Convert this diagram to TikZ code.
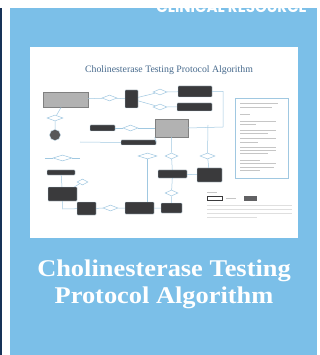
\documentclass[tikz,border=0pt]{standalone}
\usepackage{fontspec}
\setmainfont{Liberation Serif}
\newfontfamily\titlefont{Liberation Serif}[FakeStretch=1.1]
\newfontfamily\tagfont{Poppins}
\usetikzlibrary{shapes.geometric}
\definecolor{panelblue}{RGB}{123,191,232}
\definecolor{navy}{RGB}{22,50,88}
\definecolor{boxfill}{RGB}{58,58,60}
\definecolor{linecol}{RGB}{160,200,225}
\definecolor{thumbtitle}{RGB}{70,105,140}

\begin{document}
\begin{tikzpicture}
	[x=1pt,y=-1pt,
	darkbox/.style={rectangle,draw=linecol!60,fill=boxfill,rounded corners=0.6pt,inner sep=0pt,line width=0.3pt},
	graybox/.style={rectangle,draw=gray,fill=gray!60,inner sep=0pt,line width=0.4pt},
	decision/.style={diamond,draw=linecol,inner sep=0pt,line width=0.5pt},
	link/.style={draw=linecol,line width=0.5pt},
	textline/.style={draw=gray!45,line width=0.8pt}]
	% page and panel
	\fill[white] (0,0) rectangle (320,355);
	\useasboundingbox (0,0) rectangle (320,355);
	\fill[navy] (0,8) rectangle (2,355);
	\fill[panelblue] (10,8) rectangle (317,355);
	\begin{scope}
		\clip (10,8) rectangle (317,355);
		\node[anchor=base east,inner sep=0pt,text=white,font=\tagfont\bfseries\fontsize{15}{15}\selectfont] (tag) at (307,13) {CLINICAL RESOURCE};
	\end{scope}
	% thumbnail of the algorithm
	\fill[white] (30,47) rectangle (298,238);
	\node[text=thumbtitle,font=\fontsize{9.8}{10}\selectfont] (thumbtitle) at (169,70) {Cholinesterase Testing Protocol Algorithm};
	\node at (65.5,99.5) [graybox,minimum width=45pt,minimum height=15pt] (start) {};
	\node at (109.5,98) [decision,minimum width=15pt,minimum height=6pt] (d1) {};
	\node at (131.5,99) [darkbox,minimum width=13pt,minimum height=18pt] (b1) {};
	\node at (160,92) [decision,minimum width=14pt,minimum height=6pt] (d2) {};
	\node at (160,107) [decision,minimum width=14pt,minimum height=6pt] (d3) {};
	\node at (195,91.5) [darkbox,minimum width=34pt,minimum height=11pt] (b2) {};
	\node at (194.5,107) [darkbox,minimum width=35pt,minimum height=8pt] (b3) {};
	\node at (261.5,138) [rectangle,draw=linecol,line width=0.5pt,minimum width=53pt,minimum height=80pt] (legend) {};
	\node at (55,118) [decision,minimum width=16pt,minimum height=6pt] (d4) {};
	\node at (55,135) [circle,fill=boxfill!85,draw=linecol!60,minimum size=11pt,inner sep=0pt] (stop) {};
	\node at (102.5,128) [darkbox,minimum width=25pt,minimum height=6pt] (b4) {};
	\node at (130.5,128) [decision,minimum width=15pt,minimum height=6pt] (d5) {};
	\node at (171.5,128) [graybox,minimum width=33pt,minimum height=18pt] (review) {};
	\node at (138.5,142.5) [darkbox,minimum width=35pt,minimum height=5pt] (b5) {};
	\node at (62.5,158) [decision,minimum width=19pt,minimum height=6pt] (d6) {};
	\node at (147.5,156) [decision,minimum width=19pt,minimum height=6pt] (d7) {};
	\node at (171.5,156) [decision,minimum width=13pt,minimum height=6pt] (d8) {};
	\node at (207.5,156) [decision,minimum width=15pt,minimum height=6pt] (d9) {};
	\node at (61,172.5) [darkbox,minimum width=28pt,minimum height=5pt] (b6) {};
	\node at (82.5,182) [decision,minimum width=11pt,minimum height=6pt] (d10) {};
	\node at (62.5,194) [darkbox,minimum width=29pt,minimum height=14pt] (b7) {};
	\node at (172.5,174) [darkbox,minimum width=29pt,minimum height=8pt] (b8) {};
	\node at (209.5,175) [darkbox,minimum width=25pt,minimum height=14pt] (b9) {};
	\node at (171.5,193) [decision,minimum width=13pt,minimum height=6pt] (d11) {};
	\node at (86.5,208.5) [darkbox,minimum width=19pt,minimum height=13pt] (b10) {};
	\node at (110.5,208) [decision,minimum width=15pt,minimum height=6pt] (d12) {};
	\node at (139.5,208) [darkbox,minimum width=29pt,minimum height=12pt] (b11) {};
	\node at (171.5,208) [darkbox,minimum width=21pt,minimum height=10pt] (b12) {};
	\coordinate (rightturn) at (223,127);
	\coordinate (leftend) at (80,142);
	\coordinate (rightdrop) at (208,125);
	\coordinate (loopcorner) at (62.5,209);
	% connectors
	\draw[link] (start) -- (d1) -- (b1);
	\draw[link] (b1) -- (d2) -- (b2);
	\draw[link] (b1) -- (d3) -- (b3);
	\draw[link] (b2.east) -| (rightturn) -- (review.east);
	\draw[link] (start) -- (d4) -- (stop);
	\draw[link] (b4) -- (d5) -- (review);
	\draw[link] (leftend) -- (b5.west);
	\draw[link] (b5.east) -- (review.south west);
	\draw[link] (review) -- (d8) -- (b8) -- (d11) -- (b12);
	\draw[link] (rightdrop) -- (d9) -- (b9);
	\draw[link] (b8) -- (b9);
	\draw[link] ([xshift=-8pt]d6.west) -- (d6) -- ([xshift=8pt]d6.east);
	\draw[link] (b6) -- (b7);
	\draw[link] (d10) -- (b7);
	\draw[link] (b7) -- (loopcorner) -- (b10);
	\draw[link] (b10) -- (d12) -- (b11) -- (b12);
	\draw[link] (d7) -- (d7 |- b11.north);
	% legend text lines
	\foreach \ly/\lw in {103/38,107/32,114/10,121/36,124/16,130/36,133/28,138/36,142/18,147/36,150/36,153/28,160/20,163/36,167/34,170/20}
		\draw[textline] (240,\ly) -- ++(\lw,0);
	% key and notes
	\draw[textline] (207,192) -- ++(10,0);
	\node at (215,198) [rectangle,draw=boxfill,line width=0.5pt,minimum width=15pt,minimum height=4pt,inner sep=0pt] (keybox) {};
	\draw[textline] (226,198) -- ++(10,0);
	\node at (250,198) [rectangle,fill=boxfill!80,minimum width=13pt,minimum height=5pt,inner sep=0pt] (keymark) {};
	\foreach \ny/\nw in {205/85,209/85,213/85,217/50}
		\draw[draw=gray!25,line width=0.8pt] (207,\ny) -- ++(\nw,0);
	% title
	\node[anchor=base,text=white,font=\titlefont\bfseries\fontsize{24}{28}\selectfont] (title1) at (164,276) {Cholinesterase Testing};
	\node[anchor=base,text=white,font=\titlefont\bfseries\fontsize{24}{28}\selectfont] (title2) at (164,303) {Protocol Algorithm};
\end{tikzpicture}
\end{document}
